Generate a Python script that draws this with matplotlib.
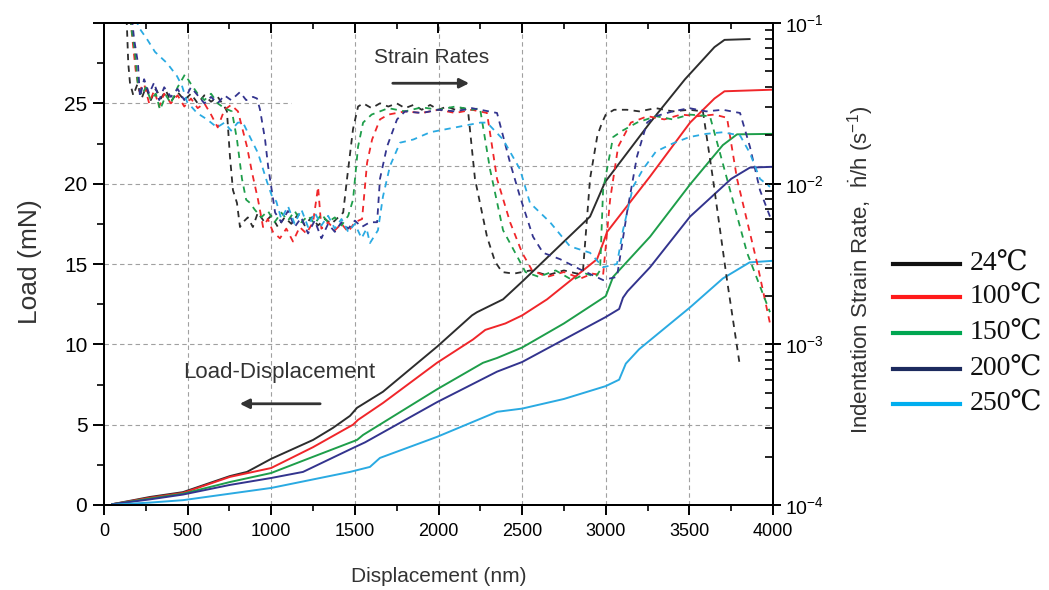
import matplotlib
matplotlib.use("Agg")
import matplotlib.pyplot as plt
import numpy as np
from matplotlib.lines import Line2D
from matplotlib.ticker import MultipleLocator, FixedLocator, LogLocator, FuncFormatter, NullFormatter

plt.rcParams['font.family'] = ['Liberation Sans', 'DejaVu Sans']
plt.rcParams['mathtext.fontset'] = 'custom'
plt.rcParams['mathtext.rm'] = 'Liberation Sans'
plt.rcParams['mathtext.it'] = 'Liberation Sans:italic'
plt.rcParams['mathtext.default'] = 'regular'

temps = ["24℃", "100℃", "150℃", "200℃", "250℃"]
colors = ["#2d2d2d", "#f0262a", "#1e9e4a", "#33348e", "#2aaae2"]
legend_colors = ["#111111", "#ff1a1a", "#00a651", "#1c2a5e", "#00aeef"]

# load-displacement curves (nm, mN)
disp_ld_24 = [50, 275, 472, 753, 855, 999, 1250, 1369, 1471, 1513, 1668, 1991, 2200, 2230, 2386, 2500,
              2906, 2996, 3265, 3474, 3650, 3710, 3860]
load_24 = [0.05, 0.5, 0.8, 1.8, 2.06, 2.87, 4.05, 4.8, 5.55, 6.05, 7.05, 9.85, 11.8, 12.0, 12.8, 13.9,
           17.95, 20.1, 23.8, 26.5, 28.5, 28.95, 29.0]
disp_ld_100 = [50, 275, 472, 753, 999, 1250, 1489, 1519, 1668, 1991, 2206, 2280, 2400, 2500, 2649, 2948,
               2984, 3008, 3265, 3504, 3650, 3710, 4000]
load_100 = [0.05, 0.45, 0.75, 1.75, 2.3, 3.6, 5.0, 5.3, 6.35, 8.85, 10.3, 10.9, 11.3, 11.8, 12.8, 15.3,
            16.3, 17.0, 20.45, 23.8, 25.3, 25.75, 25.85]
disp_ld_150 = [50, 275, 472, 753, 999, 1250, 1513, 1549, 1991, 2266, 2350, 2500, 2750, 3000, 3044, 3265,
               3504, 3700, 3785, 4000]
load_150 = [0.05, 0.4, 0.7, 1.43, 1.99, 3.0, 4.05, 4.36, 7.2, 8.85, 9.15, 9.8, 11.3, 13.0, 14.2, 16.7,
            19.95, 22.4, 23.07, 23.1]
disp_ld_200 = [50, 275, 472, 753, 999, 1190, 1489, 1561, 1991, 2350, 2500, 2750, 3000, 3080, 3103, 3130,
               3265, 3504, 3750, 3862, 4000]
load_200 = [0.05, 0.35, 0.65, 1.25, 1.68, 2.06, 3.55, 3.9, 6.4, 8.3, 8.9, 10.3, 11.7, 12.2, 12.9, 13.3,
            14.8, 17.95, 20.3, 21.0, 21.05]
disp_ld_250 = [50, 275, 472, 999, 1471, 1590, 1650, 1991, 2350, 2500, 2750, 3000, 3080, 3120, 3200, 3504,
               3700, 3860, 4000]
load_250 = [0.02, 0.15, 0.3, 1.06, 2.06, 2.37, 2.93, 4.24, 5.8, 6.0, 6.6, 7.4, 7.8, 8.8, 9.7, 12.3,
            14.1, 15.1, 15.2]

# strain-rate curves (nm, log10 of strain rate in 1/s)
disp_sr_24 = [130, 137, 145, 155, 175, 200, 225, 250, 280, 310, 340, 370, 400, 440, 480, 520, 560, 600, 640, 680,
              720, 735, 753, 771, 795, 813, 831, 860, 890, 920, 960, 1000, 1040, 1080, 1120, 1160, 1200, 1240,
              1280, 1320, 1360, 1400, 1430, 1453, 1489, 1519, 1550, 1600, 1650, 1700, 1750, 1800, 1850, 1900,
              1950, 2000, 2050, 2100, 2150, 2177, 2218, 2290, 2338, 2380, 2450, 2550, 2650, 2750, 2830, 2864,
              2906, 2950, 2978, 3000, 3050, 3127, 3200, 3300, 3400, 3500, 3581, 3641, 3725, 3803]
logsr_24 = [-0.9, -1.02, -1.25, -1.37, -1.45, -1.38, -1.47, -1.40, -1.48, -1.41, -1.47, -1.42, -1.49, -1.43,
            -1.48, -1.44, -1.50, -1.45, -1.49, -1.46, -1.52, -1.55, -1.83, -2.04, -2.12, -2.27, -2.24, -2.21,
            -2.27, -2.18, -2.24, -2.20, -2.27, -2.21, -2.25, -2.19, -2.26, -2.21, -2.26, -2.22, -2.25, -2.21,
            -2.18, -1.97, -1.66, -1.52, -1.50, -1.53, -1.50, -1.52, -1.50, -1.53, -1.51, -1.54, -1.51, -1.54,
            -1.52, -1.54, -1.53, -1.55, -1.97, -2.33, -2.485, -2.55, -2.56, -2.54, -2.57, -2.54, -2.56, -2.54,
            -1.97, -1.70, -1.62, -1.57, -1.54, -1.54, -1.55, -1.53, -1.55, -1.54, -1.55, -1.97, -2.60, -3.14]
disp_sr_100 = [150, 170, 190, 210, 240, 270, 300, 330, 360, 400, 440, 480, 520, 560, 600, 640, 680, 720, 760,
               801, 855, 885, 921, 951, 980, 1010, 1052, 1090, 1130, 1170, 1210, 1250, 1280, 1300, 1340, 1380,
               1420, 1460, 1500, 1543, 1573, 1603, 1650, 1700, 1800, 1900, 2000, 2100, 2200, 2290, 2350, 2428,
               2500, 2560, 2650, 2750, 2850, 2920, 2984, 3026, 3074, 3150, 3250, 3350, 3450, 3550, 3650, 3725,
               3785, 3904, 3982]
logsr_100 = [-0.9, -1.10, -1.30, -1.42, -1.38, -1.50, -1.42, -1.52, -1.44, -1.50, -1.45, -1.52, -1.47, -1.53,
             -1.50, -1.57, -1.65, -1.54, -1.51, -1.55, -1.77, -1.93, -2.10, -2.27, -2.22, -2.30, -2.34, -2.28,
             -2.36, -2.27, -2.31, -2.24, -2.02, -2.28, -2.24, -2.29, -2.25, -2.30, -2.24, -2.22, -1.87, -1.725,
             -1.60, -1.57, -1.55, -1.56, -1.54, -1.56, -1.54, -1.56, -1.97, -2.24, -2.43, -2.54, -2.58, -2.55,
             -2.59, -2.56, -2.57, -2.10, -1.77, -1.62, -1.58, -1.60, -1.57, -1.58, -1.57, -1.59, -1.97, -2.49,
             -2.87]
disp_sr_150 = [150, 167, 185, 203, 225, 250, 280, 310, 335, 370, 400, 440, 484, 520, 560, 600, 640, 680, 720,
               765, 795, 825, 850, 873, 900, 940, 980, 1020, 1060, 1100, 1140, 1180, 1220, 1260, 1300, 1340,
               1380, 1420, 1460, 1489, 1519, 1549, 1600, 1650, 1700, 1800, 1900, 2000, 2100, 2200, 2248, 2308,
               2386, 2469, 2520, 2600, 2700, 2800, 2880, 2940, 2966, 2984, 3044, 3100, 3187, 3300, 3400, 3500,
               3623, 3725, 3845, 3982]
logsr_150 = [-0.9, -1.06, -1.18, -1.39, -1.45, -1.40, -1.48, -1.44, -1.54, -1.45, -1.50, -1.40, -1.32, -1.38,
             -1.44, -1.48, -1.44, -1.50, -1.53, -1.55, -1.725, -1.97, -2.10, -2.12, -2.16, -2.21, -2.17, -2.24,
             -2.18, -2.23, -2.17, -2.24, -2.20, -2.25, -2.19, -2.24, -2.21, -2.26, -2.20, -2.10, -1.77, -1.62,
             -1.57, -1.55, -1.53, -1.55, -1.525, -1.54, -1.52, -1.54, -1.53, -1.91, -2.29, -2.45, -2.55, -2.58,
             -2.54, -2.60, -2.56, -2.58, -2.54, -2.04, -1.71, -1.67, -1.62, -1.58, -1.60, -1.57, -1.58, -1.97,
             -2.43, -2.80]
disp_sr_200 = [160, 180, 203, 215, 240, 270, 300, 330, 360, 400, 440, 480, 520, 560, 600, 640, 680, 720, 760,
               813, 850, 891, 915, 933, 963, 981, 1005, 1023, 1060, 1100, 1140, 1180, 1220, 1260, 1300, 1340,
               1380, 1420, 1460, 1500, 1540, 1590, 1633, 1650, 1692, 1752, 1800, 1900, 2000, 2100, 2200, 2300,
               2350, 2428, 2487, 2565, 2625, 2727, 2840, 2984, 3067, 3127, 3187, 3247, 3300, 3400, 3500, 3600,
               3700, 3803, 3862, 3922, 3982]
logsr_200 = [-0.9, -1.10, -1.25, -1.46, -1.35, -1.44, -1.37, -1.48, -1.40, -1.46, -1.41, -1.48, -1.40, -1.45,
             -1.50, -1.46, -1.50, -1.45, -1.48, -1.43, -1.48, -1.46, -1.47, -1.54, -1.725, -1.89, -2.055, -2.18,
             -2.24, -2.17, -2.27, -2.21, -2.31, -2.23, -2.34, -2.25, -2.30, -2.24, -2.28, -2.23, -2.27, -2.24,
             -2.24, -1.97, -1.77, -1.60, -1.55, -1.56, -1.54, -1.55, -1.53, -1.55, -1.56, -1.87, -2.08, -2.33,
             -2.43, -2.47, -2.53, -2.60, -2.58, -2.18, -1.83, -1.62, -1.58, -1.55, -1.53, -1.55, -1.54, -1.56,
             -1.77, -2.04, -2.205]
disp_sr_250 = [190, 203, 257, 305, 377, 436, 466, 496, 556, 616, 676, 720, 760, 800, 831, 873, 921, 951, 975,
               1005, 1030, 1060, 1100, 1140, 1180, 1220, 1260, 1300, 1340, 1380, 1420, 1460, 1500, 1540, 1570,
               1590, 1620, 1638, 1668, 1710, 1770, 1850, 1950, 2050, 2150, 2250, 2290, 2386, 2487, 2547, 2667,
               2786, 2906, 2984, 3067, 3103, 3163, 3223, 3300, 3400, 3500, 3600, 3700, 3803, 3862, 3922, 3982]
logsr_250 = [-0.9, -1.02, -1.10, -1.18, -1.25, -1.33, -1.39, -1.49, -1.56, -1.60, -1.65, -1.62, -1.67, -1.62,
             -1.62, -1.71, -1.81, -1.91, -1.99, -2.08, -2.11, -2.22, -2.14, -2.25, -2.16, -2.27, -2.18, -2.26,
             -2.20, -2.28, -2.22, -2.30, -2.25, -2.34, -2.28, -2.37, -2.32, -2.29, -2.08, -1.89, -1.745, -1.725,
             -1.68, -1.66, -1.64, -1.62, -1.62, -1.725, -1.91, -2.12, -2.24, -2.39, -2.43, -2.52, -2.50, -2.29,
             -2.02, -1.91, -1.80, -1.75, -1.71, -1.69, -1.68, -1.70, -1.81, -1.97, -2.02]

ld_disp = [disp_ld_24, disp_ld_100, disp_ld_150, disp_ld_200, disp_ld_250]
ld_load = [load_24, load_100, load_150, load_200, load_250]
sr_disp = [disp_sr_24, disp_sr_100, disp_sr_150, disp_sr_200, disp_sr_250]
sr_log = [logsr_24, logsr_100, logsr_150, logsr_200, logsr_250]

fig = plt.figure(figsize=(10.49, 5.90), dpi=100)
ax = fig.add_axes([104 / 1049, 1 - 505 / 590, 669 / 1049, 482 / 590])
ax2 = ax.twinx()

# grid, drawn by hand to match the partial lines of the original
gkw = dict(colors="#a0a0a0", linestyles=(0, (4, 3)), lw=0.8, zorder=0)
ax.vlines(np.arange(500, 4000, 500), 0, 30, **gkw)
ax.hlines([5, 10, 15, 20], 0, 4000, **gkw)
ax.hlines(25, 0, 1120, **gkw)
ax.hlines(21.1, 1120, 4000, **gkw)

for x, y, c in zip(ld_disp, ld_load, colors):
    ax.plot(x, y, color=c, lw=1.4, zorder=3)
for x, e, c in zip(sr_disp, sr_log, colors):
    ax2.plot(x, 10 ** np.array(e), color=c, lw=1.3, ls=(0, (3.5, 3)))

ax.set_xlim(0, 4000)
ax.set_ylim(0, 30)
ax2.set_yscale("log")
ax2.set_ylim(1e-4, 1e-1)

ax.xaxis.set_major_locator(MultipleLocator(500))
ax.xaxis.set_minor_locator(MultipleLocator(250))
ax.yaxis.set_major_locator(MultipleLocator(5))
ax.yaxis.set_minor_locator(MultipleLocator(2.5))
ax.yaxis.set_major_formatter(FuncFormatter(lambda v, p: "" if v >= 30 else f"{v:g}"))

ax.tick_params(axis="x", which="major", direction="out", length=7, width=1.4,
               labelsize=13, pad=6, top=False)
ax.tick_params(axis="x", which="minor", direction="out", length=4, width=1.2, top=False)
ax.tick_params(axis="y", which="major", direction="out", length=8, width=1.4,
               labelsize=15, pad=4, right=False)
ax.tick_params(axis="y", which="minor", direction="out", length=5, width=1.2, right=False)

top = ax.secondary_xaxis("top")
top.xaxis.set_major_locator(MultipleLocator(500))
top.xaxis.set_minor_locator(MultipleLocator(250))
top.tick_params(which="major", direction="in", length=7, width=1.4, labeltop=False)
top.tick_params(which="minor", direction="in", length=4, width=1.2)
top.spines["top"].set_linewidth(1.4)

ax2.yaxis.set_major_locator(FixedLocator([1e-4, 1e-3, 1e-2, 1e-1]))
ax2.yaxis.set_minor_locator(LogLocator(base=10, subs=np.arange(2, 10)))
ax2.yaxis.set_major_formatter(FuncFormatter(lambda v, p: f"10$^{{{int(round(np.log10(v)))}}}$"))
ax2.yaxis.set_minor_formatter(NullFormatter())
ax2.tick_params(axis="y", which="major", direction="inout", length=12, width=1.4,
                labelsize=14, pad=3)
ax2.tick_params(axis="y", which="minor", direction="in", length=6, width=1.2)

for a in (ax, ax2):
    for s in a.spines.values():
        s.set_linewidth(1.4)

tc = "#333333"
fig.text(439 / 1049, 1 - 577 / 590, "Displacement (nm)", ha="center", va="center", fontsize=15, color=tc)
fig.text(30 / 1049, 1 - 262 / 590, "Load (mN)", ha="center", va="center", rotation=90, fontsize=19, color=tc)
fig.text(860 / 1049, 1 - 270 / 590, "Indentation Strain Rate,  ḣ/h (s$^{-1}$)", ha="center", va="center",
         rotation=90, fontsize=16, color=tc)

ax.text(1961, 27.87, "Strain Rates", ha="center", va="center", fontsize=15, color=tc)
ax.annotate("", xy=(2200, 26.25), xytext=(1710, 26.25),
            arrowprops=dict(arrowstyle="-|>", color=tc, lw=2, mutation_scale=14))
ax.text(1046, 8.23, "Load-Displacement", ha="center", va="center", fontsize=16, color=tc)
ax.annotate("", xy=(795, 6.3), xytext=(1309, 6.3),
            arrowprops=dict(arrowstyle="-|>", color=tc, lw=2, mutation_scale=14))

# legend drawn by hand
leg_y = [264, 297, 333, 369, 404]
for lab, c, py in zip(temps, legend_colors, leg_y):
    yf = 1 - py / 590
    fig.add_artist(Line2D([893 / 1049, 960 / 1049], [yf, yf], color=c, lw=3, transform=fig.transFigure))
    fig.text(970 / 1049, yf, lab, ha="left", va="center", fontsize=20,
             family=["Liberation Serif", "DejaVu Serif"], color="#111111")

fig.savefig("out.png", dpi=100)
